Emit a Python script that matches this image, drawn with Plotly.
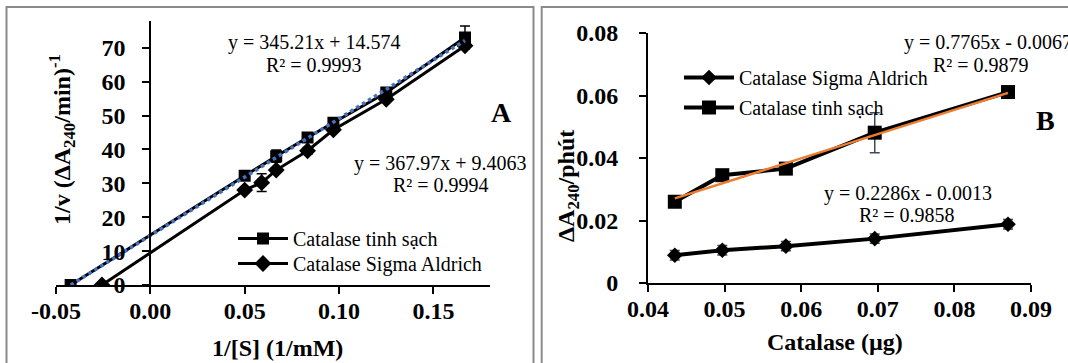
import plotly.graph_objects as go

W, H = 1068, 363
FONT = "Liberation Serif"

# ---------------- Panel A data (Lineweaver-Burk) ----------------
a_tinh_x = [-0.0422, 0.05, 0.0667, 0.0833, 0.097, 0.125, 0.1667]
a_tinh_y = [0, 32.2, 38.0, 43.5, 47.9, 56.8, 73.0]
a_tinh_err = [0, 0.8, 1.8, 0.8, 0.8, 0.8, 3.4]

a_sig_x = [-0.0256, 0.05, 0.059, 0.0667, 0.0833, 0.097, 0.125, 0.1667]
a_sig_y = [0, 28.0, 30.2, 33.9, 39.6, 45.8, 54.8, 70.6]
a_sig_err = [0, 0.6, 2.6, 0.6, 1.0, 0.6, 0.6, 0.6]

a_fit_tinh = [345.21, 14.574]   # slope, intercept
a_x_ticks = [-0.05, 0.0, 0.05, 0.10, 0.15]
a_x_ticktext = ["-0.05", "0.00", "0.05", "0.10", "0.15"]
a_y_ticks = [0, 10, 20, 30, 40, 50, 60, 70]

# ---------------- Panel B data ----------------
b_x = [0.0435, 0.0497, 0.058, 0.0696, 0.087]
b_tinh_y = [0.026, 0.0345, 0.0366, 0.0481, 0.0611]
b_tinh_err = [0.0012, 0.001, 0.001, 0.0064, 0.0012]
b_sig_y = [0.0089, 0.0105, 0.0118, 0.0142, 0.0188]
b_sig_err = [0.0015, 0.0015, 0.0015, 0.0015, 0.0015]

b_fit_tinh = [0.7765, -0.0067]
b_x_ticks = [0.04, 0.05, 0.06, 0.07, 0.08, 0.09]
b_x_ticktext = ["0.04", "0.05", "0.06", "0.07", "0.08", "0.09"]
b_y_ticks = [0, 0.02, 0.04, 0.06, 0.08]
b_y_ticktext = ["0", "0.02", "0.04", "0.06", "0.08"]


def px(x):
    return x / W


def py(y):
    return 1 - y / H


fig = go.Figure()

# ---- Panel A traces ----
fig.add_trace(go.Scatter(
    x=a_tinh_x, y=a_tinh_y, mode="lines+markers", name="Catalase tinh sạch",
    line=dict(color="black", width=3),
    marker=dict(symbol="square", size=12, color="black"),
    error_y=dict(type="data", array=a_tinh_err, color="black", thickness=1.5, width=5),
    xaxis="x", yaxis="y", legend="legend"))
fig.add_trace(go.Scatter(
    x=a_sig_x, y=a_sig_y, mode="lines+markers", name="Catalase Sigma Aldrich",
    line=dict(color="black", width=3),
    marker=dict(symbol="diamond", size=13, color="black"),
    error_y=dict(type="data", array=a_sig_err, color="black", thickness=1.5, width=5),
    xaxis="x", yaxis="y", legend="legend2"))
a_tr_x = [min(a_tinh_x), max(a_tinh_x)]
fig.add_trace(go.Scatter(
    x=a_tr_x, y=[a_fit_tinh[0] * v + a_fit_tinh[1] for v in a_tr_x],
    mode="lines", line=dict(color="#4472C4", width=3.5, dash="dot"),
    showlegend=False, hoverinfo="skip", xaxis="x", yaxis="y"))

# ---- Panel B traces ----
fig.add_trace(go.Scatter(
    x=b_x, y=b_sig_y, mode="lines+markers", name="Catalase Sigma Aldrich",
    line=dict(color="black", width=4),
    marker=dict(symbol="diamond", size=12, color="black"),
    error_y=dict(type="data", array=b_sig_err, color="#3b4a5e", thickness=1.5, width=5),
    xaxis="x2", yaxis="y2", legend="legend3"))
fig.add_trace(go.Scatter(
    x=b_x, y=b_tinh_y, mode="lines+markers", name="Catalase tinh sạch",
    line=dict(color="black", width=4),
    marker=dict(symbol="square", size=14, color="black"),
    error_y=dict(type="data", array=b_tinh_err, color="#3b4a5e", thickness=1.5, width=5),
    xaxis="x2", yaxis="y2", legend="legend4"))
b_tr_x = [min(b_x), max(b_x)]
fig.add_trace(go.Scatter(
    x=b_tr_x, y=[b_fit_tinh[0] * v + b_fit_tinh[1] for v in b_tr_x],
    mode="lines", line=dict(color="#ED7D31", width=2.5),
    showlegend=False, hoverinfo="skip", xaxis="x2", yaxis="y2"))

tickfont = dict(family=FONT, size=24, color="black", weight="bold")
axis_common = dict(showgrid=False, zeroline=False, showline=True, linecolor="black",
                   linewidth=2, ticks="outside", ticklen=7, tickwidth=2, tickcolor="black",
                   tickfont=tickfont, automargin=False)

# pixel geometry
a_x0, a_x1 = 55.9, 490.1
a_y0, a_y1 = 285.0, 20.6
b_x0, b_x1 = 648.0, 1031.0
b_y0, b_y1 = 283.0, 33.0


def leg(x, top):
    return dict(x=px(x), y=py(top), xanchor="left", yanchor="top",
                bgcolor="rgba(0,0,0,0)", font=dict(family=FONT, size=20, color="black"),
                itemwidth=50, borderwidth=0)


fig.update_layout(
    template="none",
    width=W, height=H, margin=dict(l=0, r=0, t=0, b=0, pad=0, autoexpand=False),
    paper_bgcolor="white", plot_bgcolor="rgba(0,0,0,0)",
    font=dict(family=FONT, color="black"),
    xaxis=dict(domain=[px(a_x0), px(a_x1)], range=[-0.05, 0.18], anchor="y",
               tickvals=a_x_ticks, ticktext=a_x_ticktext, ticklabelstandoff=-4, **axis_common),
    yaxis=dict(domain=[py(a_y0), py(a_y1)], range=[0, 78], anchor="free",
               position=px(150.3), tickvals=a_y_ticks, ticklabelstandoff=12, **axis_common),
    xaxis2=dict(domain=[px(b_x0), px(b_x1)], range=[0.04, 0.09], anchor="y2",
                tickvals=b_x_ticks, ticktext=b_x_ticktext, ticklabelstandoff=-4, **axis_common),
    yaxis2=dict(domain=[py(b_y0), py(b_y1)], range=[0, 0.08], anchor="x2",
                tickvals=b_y_ticks, ticktext=b_y_ticktext, ticklabelstandoff=16, **axis_common),
    legend=leg(233, 219),
    legend2=leg(233, 244),
    legend3=leg(679, 58),
    legend4=leg(679, 88),
)

# frames
frame = dict(type="rect", xref="paper", yref="paper", line=dict(color="#8a8a8a", width=2),
             fillcolor="rgba(0,0,0,0)", layer="below")
fig.add_shape(x0=px(6.5), x1=px(533.5), y0=-0.1, y1=py(7), **frame)
fig.add_shape(x0=px(541.7), x1=1.1, y0=-0.1, y1=py(7), **frame)

ann_font = dict(family=FONT, size=20, color="black")
bold_font = dict(family=FONT, size=24, color="black", weight="bold")


def ann(text, x, y, font, xanchor="center", angle=0):
    fig.add_annotation(text=text, x=px(x), y=py(y), xref="paper", yref="paper",
                       xanchor=xanchor, yanchor="middle", showarrow=False,
                       font=font, textangle=angle)


# Panel A texts
ann("y = 345.21x + 14.574", 314, 43, ann_font)
ann("R² = 0.9993", 314, 65, ann_font)
ann("y = 367.97x + 9.4063", 440, 163, ann_font)
ann("R² = 0.9994", 441, 185, ann_font)
ann("A", 501, 112, dict(family=FONT, size=28, color="black", weight="bold"))
ann("1/[S] (1/mM)", 277, 348, bold_font)
ann("1/v (ΔA<sub>240</sub>/min)<sup>-1</sup>", 62, 140, bold_font, angle=-90)

# Panel B texts
ann("y = 0.7765x - 0.0067", 902, 43, ann_font, xanchor="left")
ann("R² = 0.9879", 981, 65, ann_font)
ann("y = 0.2286x - 0.0013", 908, 194, ann_font)
ann("R² = 0.9858", 907, 215, ann_font)
ann("B", 1045, 121, dict(family=FONT, size=28, color="black", weight="bold"))
ann("Catalase (µg)", 835, 342, bold_font)
ann("ΔA<sub>240</sub>/phút", 568, 186, bold_font, angle=-90)

fig.write_html("out.html", config={"displayModeBar": False},
               post_script="document.body.style.margin='0';document.body.style.overflow='hidden';")
